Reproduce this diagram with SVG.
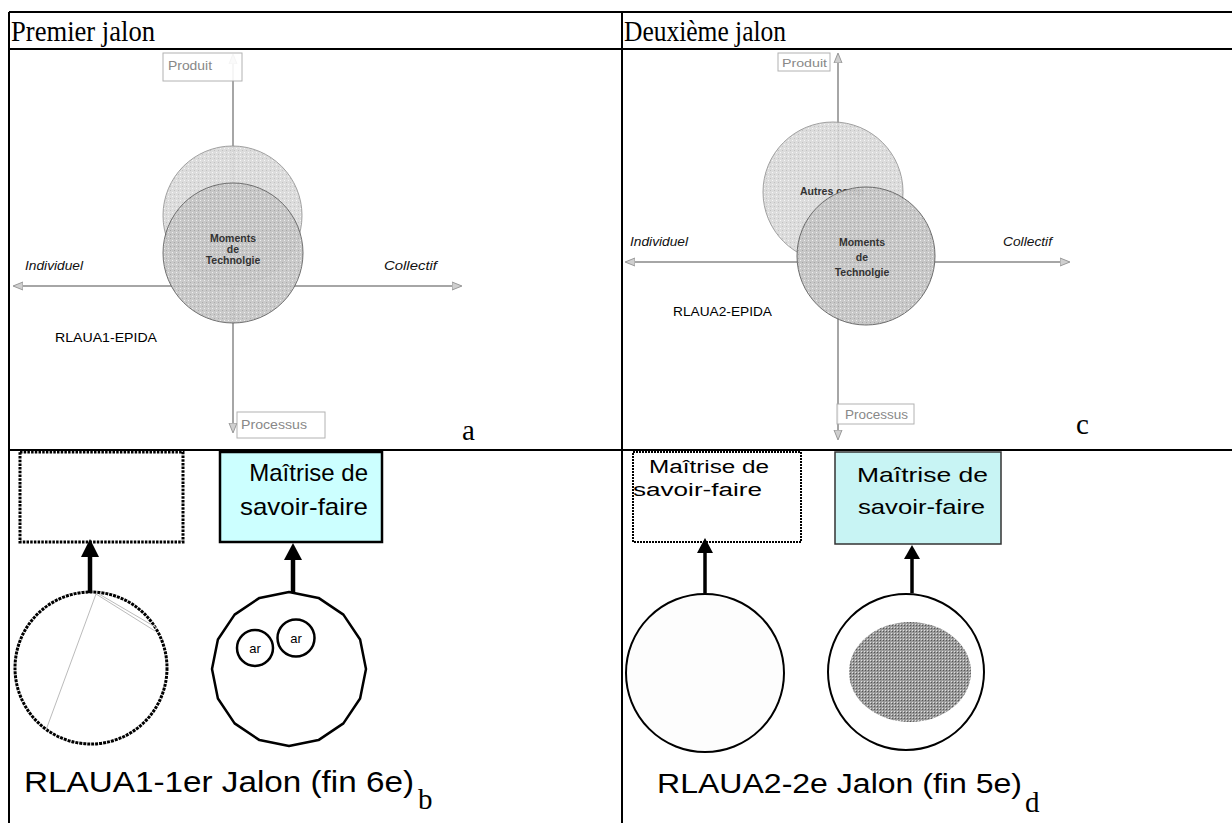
<svg xmlns="http://www.w3.org/2000/svg" width="1232" height="823" viewBox="0 0 1232 823">
<style>
.grid{stroke:#000;stroke-width:2;fill:none}
.head{font-family:"Liberation Serif",serif;font-size:29px;fill:#000}
.axis{stroke:#a6a6a6;stroke-width:2;fill:none}
.lbl{font-family:"Liberation Sans",Arial,sans-serif;fill:#000}
.ital{font-family:"Liberation Sans",Arial,sans-serif;font-style:italic;font-size:13px;fill:#111}
.mom{font-family:"Liberation Sans",Arial,sans-serif;font-weight:bold;font-size:10.5px;fill:#333;text-anchor:middle}
.gbox{fill:#fff;stroke:#aaa;stroke-width:1;opacity:0.9}
.gtxt{font-family:"Liberation Sans",Arial,sans-serif;fill:#888}
.conn{stroke:#000;stroke-width:4.5}
</style>
<defs>
<pattern id="pl" width="4" height="4" patternUnits="userSpaceOnUse">
<rect width="4" height="4" fill="#dadada"/>
<rect width="1" height="1" fill="#f6f6f6"/>
<rect x="2" y="2" width="1" height="1" fill="#bcbcbc"/>
</pattern>
<pattern id="pd" width="4" height="4" patternUnits="userSpaceOnUse">
<rect width="4" height="4" fill="#c6c6c6"/>
<rect width="1" height="1" fill="#eeeeee"/>
<rect x="2" y="2" width="1" height="1" fill="#a4a4a4"/>
</pattern>
<pattern id="pk" width="3" height="3" patternUnits="userSpaceOnUse">
<rect width="3" height="3" fill="#9a9a9a"/>
<rect width="1" height="1" fill="#e0e0e0"/>
<rect x="1" y="1" width="1" height="1" fill="#555"/>
</pattern>
<marker id="ah" viewBox="0 0 10 10" refX="9" refY="5" markerWidth="5" markerHeight="5" orient="auto-start-reverse">
<path d="M0,1 L10,5 L0,9 Z" fill="#cfcfcf" stroke="#999" stroke-width="1"/>
</marker>
</defs>

<g id="table">
<line class="grid" x1="9" y1="12" x2="1232" y2="12"/>
<line class="grid" x1="9" y1="49" x2="1232" y2="49"/>
<line class="grid" x1="9" y1="450" x2="1232" y2="450"/>
<line class="grid" x1="9" y1="12" x2="9" y2="823"/>
<line class="grid" x1="622" y1="12" x2="622" y2="823"/>
<text class="head" x="11" y="41" textLength="144" lengthAdjust="spacingAndGlyphs">Premier jalon</text>
<text class="head" x="624" y="41" textLength="162" lengthAdjust="spacingAndGlyphs">Deuxième jalon</text>
</g>

<g id="panel-a">
<line class="axis" x1="14" y1="286" x2="461" y2="286" marker-start="url(#ah)" marker-end="url(#ah)"/>
<line class="axis" x1="233" y1="55" x2="233" y2="432" marker-start="url(#ah)" marker-end="url(#ah)"/>
<circle cx="232.5" cy="215.5" r="69.5" fill="url(#pl)" stroke="#999" stroke-width="1" opacity="0.92"/>
<circle cx="233" cy="253" r="70" fill="url(#pd)" stroke="#666" stroke-width="1" opacity="0.92"/>
<text class="mom" x="233" y="242">Moments</text>
<text class="mom" x="233" y="253">de</text>
<text class="mom" x="233" y="264">Technolgie</text>
<rect class="gbox" x="163" y="53" width="79" height="28"/>
<text class="gtxt" x="168" y="70" font-size="12" textLength="44" lengthAdjust="spacingAndGlyphs">Produit</text>
<rect class="gbox" x="237" y="412" width="88" height="26"/>
<text class="gtxt" x="241" y="429" font-size="13" fill="#777" textLength="66" lengthAdjust="spacingAndGlyphs">Processus</text>
<text class="ital" x="25" y="270" textLength="58" lengthAdjust="spacingAndGlyphs">Individuel</text>
<text class="ital" x="384" y="270" textLength="53" lengthAdjust="spacingAndGlyphs">Collectif</text>
<text class="lbl" x="55" y="342" font-size="13" textLength="102" lengthAdjust="spacingAndGlyphs">RLAUA1-EPIDA</text>
<text class="head" x="462" y="440" font-size="24">a</text>
</g>

<g id="panel-c">
<line class="axis" x1="626" y1="262" x2="1069" y2="262" marker-start="url(#ah)" marker-end="url(#ah)"/>
<line class="axis" x1="838" y1="54" x2="838" y2="439" marker-start="url(#ah)" marker-end="url(#ah)"/>
<circle cx="833" cy="192" r="70" fill="url(#pl)" stroke="#999" stroke-width="1" opacity="0.92"/>
<text class="mom" x="800" y="195" style="text-anchor:start">Autres comp</text>
<circle cx="866" cy="256" r="69" fill="url(#pd)" stroke="#666" stroke-width="1" opacity="0.95"/>
<text class="mom" x="862" y="246">Moments</text>
<text class="mom" x="862" y="261">de</text>
<text class="mom" x="862" y="276">Technolgie</text>
<rect class="gbox" x="778" y="53" width="52" height="18"/>
<text class="gtxt" x="782" y="67" font-size="11" textLength="45" lengthAdjust="spacingAndGlyphs">Produit</text>
<rect class="gbox" x="837" y="404" width="77" height="20"/>
<text class="gtxt" x="845" y="419" font-size="12" fill="#777" textLength="63" lengthAdjust="spacingAndGlyphs">Processus</text>
<text class="ital" x="630" y="246" textLength="58" lengthAdjust="spacingAndGlyphs">Individuel</text>
<text class="ital" x="1003" y="246" textLength="49" lengthAdjust="spacingAndGlyphs">Collectif</text>
<text class="lbl" x="673" y="316" font-size="13" textLength="99" lengthAdjust="spacingAndGlyphs">RLAUA2-EPIDA</text>
<text class="head" x="1076" y="434" font-size="24">c</text>
</g>

<g id="panel-b">
<g id="b-box1"><rect x="20" y="452" width="163" height="90" fill="#fff" stroke="#000" stroke-width="3" stroke-dasharray="2.5 1.2"/></g>
<g id="b-box2"><rect x="220" y="452" width="162" height="90" fill="#ccffff" stroke="#000" stroke-width="2.5"/>
<text class="lbl" x="368" y="481" font-size="24" text-anchor="end">Maîtrise de</text>
<text class="lbl" x="368" y="515" font-size="24" text-anchor="end" textLength="128" lengthAdjust="spacingAndGlyphs">savoir-faire</text></g>
<g id="b-circle1"><circle cx="91" cy="668" r="76" fill="#fff" stroke="#000" stroke-width="3" stroke-dasharray="3 1"/>
<line x1="96" y1="594" x2="46" y2="730" stroke="#bbb" stroke-width="1"/>
<line x1="96" y1="594" x2="155" y2="631" stroke="#bbb" stroke-width="1"/>
<line x1="99" y1="594" x2="157" y2="628" stroke="#bbb" stroke-width="1"/></g>
<g id="b-circle2"><polygon points="366,669 360.1,698.5 343.4,723.4 318.5,740.1 289,746 259.5,740.1 234.6,723.4 217.9,698.5 212,669 217.9,639.5 234.6,614.6 259.5,597.9 289,592 318.5,597.9 343.4,614.6 360.1,639.5" fill="#fff" stroke="#000" stroke-width="2.5" stroke-linejoin="round"/>
<circle cx="255" cy="648" r="18" fill="#fff" stroke="#000" stroke-width="2.5"/>
<text class="lbl" x="255" y="653" font-size="13" text-anchor="middle">ar</text>
<circle cx="296" cy="638" r="18.5" fill="#fff" stroke="#000" stroke-width="2.5"/>
<text class="lbl" x="296" y="643" font-size="13" text-anchor="middle">ar</text></g>
<text class="lbl" x="24" y="792" font-size="30" textLength="390" lengthAdjust="spacingAndGlyphs">RLAUA1-1er Jalon (fin 6e)</text>
<text class="head" x="418" y="809" font-size="22">b</text>
</g>

<g id="panel-d">
<g id="d-box1"><rect x="633" y="452" width="168" height="90" fill="#fff" stroke="#000" stroke-width="2" stroke-dasharray="2 1"/>
<text class="lbl" x="649" y="473" font-size="18" fill="#555" textLength="120" lengthAdjust="spacingAndGlyphs">Maîtrise de</text>
<text class="lbl" x="633" y="496" font-size="18" fill="#555" textLength="129" lengthAdjust="spacingAndGlyphs">savoir-faire</text></g>
<g id="d-box2"><rect x="835" y="452" width="166" height="92" fill="#c8f4f4" stroke="#333" stroke-width="1.5"/>
<text class="lbl" x="857" y="482" font-size="21" fill="#333" textLength="131" lengthAdjust="spacingAndGlyphs">Maîtrise de</text>
<text class="lbl" x="858" y="514" font-size="21" fill="#333" textLength="127" lengthAdjust="spacingAndGlyphs">savoir-faire</text></g>
<g id="d-circle1"><circle cx="705" cy="673" r="79" fill="#fdfdfd" stroke="#000" stroke-width="2"/></g>
<g id="d-circle2"><circle cx="906" cy="672" r="78" fill="#fff" stroke="#000" stroke-width="2"/>
<ellipse cx="910" cy="672" rx="61" ry="50" fill="url(#pk)"/></g>
<text class="lbl" x="657" y="793" font-size="27" textLength="365" lengthAdjust="spacingAndGlyphs">RLAUA2-2e Jalon (fin 5e)</text>
<text class="head" x="1025" y="812" font-size="22">d</text>
</g>

<g id="connectors">
<line class="conn" x1="90" y1="593" x2="90" y2="554"/>
<polygon points="90,539 81,557 99,557" fill="#000"/>
<line class="conn" x1="293" y1="593" x2="293" y2="557"/>
<polygon points="293,543 284,560 302,560" fill="#000"/>
<line class="conn" x1="705" y1="593" x2="705" y2="550" style="stroke-width:3.5"/>
<polygon points="705,538 697,553 713,553" fill="#000"/>
<line class="conn" x1="912" y1="593" x2="912" y2="555" style="stroke-width:3.5"/>
<polygon points="912,545 904,559 920,559" fill="#000"/>
</g>
</svg>
